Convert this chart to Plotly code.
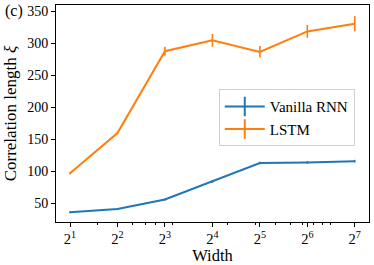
import plotly.graph_objects as go

widths = [2, 4, 8, 16, 32, 64, 128]
rnn_xi = [36, 41, 56, 84, 113, 114, 116]
rnn_err = [1.5, 1.5, 1.5, 2, 2, 2, 2]
lstm_xi = [97, 160, 288, 305, 287, 319, 331]
lstm_err = [2, 2, 7, 10, 9, 10, 12]
tick_labels = ["2<sup>1</sup>", "2<sup>2</sup>", "2<sup>3</sup>", "2<sup>4</sup>",
               "2<sup>5</sup>", "2<sup>6</sup>", "2<sup>7</sup>"]
minor_ticks = [3, 5, 6, 7, 9, 20, 30, 40, 50, 60, 70, 80, 90]

blue = "#1f77b4"
orange = "#ff7f0e"
font = "Liberation Serif"

fig = go.Figure()
for name, ys, err, col in [("Vanilla RNN", rnn_xi, rnn_err, blue),
                           ("LSTM", lstm_xi, lstm_err, orange)]:
    fig.add_trace(go.Scatter(
        x=widths, y=ys, mode="lines", line=dict(color=col, width=2),
        error_y=dict(type="data", array=err, visible=True, color=col,
                     thickness=1.6, width=0),
        showlegend=False))
    fig.add_trace(go.Scatter(
        x=[None], y=[None], mode="lines+markers", name=name,
        line=dict(color=col, width=2),
        marker=dict(symbol="line-ns-open", size=14, color=col,
                    line=dict(color=col, width=2))))

fig.update_layout(
    width=374, height=265,
    margin=dict(l=56, r=5, t=5, b=43, autoexpand=False),
    plot_bgcolor="white", paper_bgcolor="white",
    font=dict(family=font, size=14, color="black"),
    legend=dict(x=0.52, y=0.612, xanchor="left", yanchor="top",
                bgcolor="white", bordercolor="#d0d0d0", borderwidth=1,
                font=dict(size=15), itemwidth=40,
                tracegroupgap=0),
    annotations=[dict(text="(c)", x=-0.168, y=0.972, xref="paper", yref="paper",
                      xanchor="left", yanchor="middle", showarrow=False,
                      font=dict(size=16))],
)

fig.update_xaxes(
    type="log", range=[0.705 * 0.30103, 7.30 * 0.30103],
    tickvals=widths, ticktext=tick_labels, tickfont=dict(size=14.5),
    ticks="outside", ticklen=4, tickwidth=1, tickcolor="black",
    showline=True, linecolor="black", linewidth=1, mirror=True,
    showgrid=False, zeroline=False,
    minor=dict(tickvals=minor_ticks, ticks="outside", ticklen=2,
               tickwidth=0.8, tickcolor="black", showgrid=False),
    title=dict(text="Width", standoff=4, font=dict(size=16.5)),
)
fig.update_yaxes(
    range=[20.8, 360.3],
    tickvals=[50, 100, 150, 200, 250, 300, 350],
    ticks="outside", ticklen=4, tickwidth=1, tickcolor="black",
    showline=True, linecolor="black", linewidth=1, mirror=True,
    showgrid=False, zeroline=False,
    title=dict(text="Correlation length <i>ξ</i>", standoff=6,
               font=dict(size=17)),
)

fig.write_html("out.html", config={"displayModeBar": False},
               post_script="document.body.style.margin='0';")
